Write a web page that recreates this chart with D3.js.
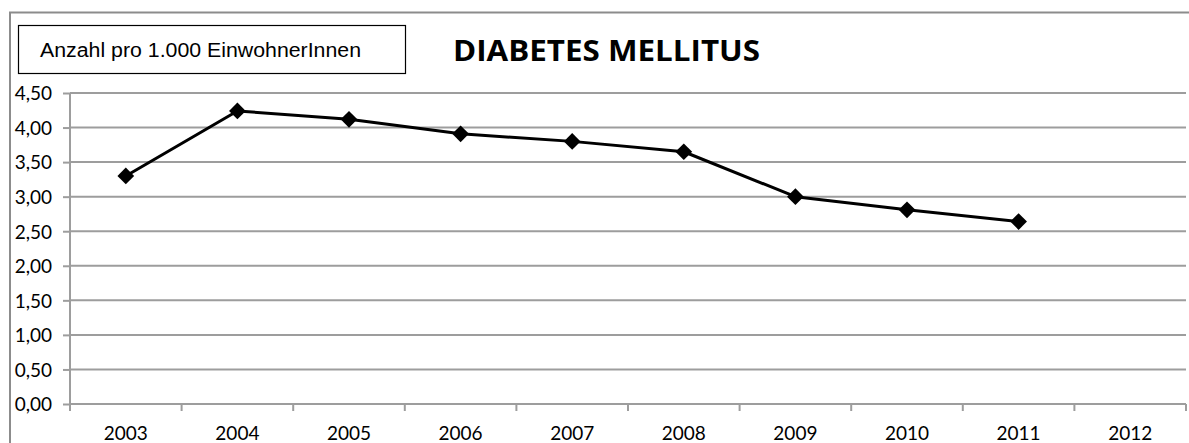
<!DOCTYPE html>
<html>
<head>
<meta charset="utf-8">
<script src="https://cdn.jsdelivr.net/npm/d3@7"></script>
<style>
  html, body { margin: 0; padding: 0; background: #fff; }
  svg { display: block; }
</style>
</head>
<body>
<svg id="chart" width="1189" height="443"></svg>
<script>
// Diabetes mellitus cases per 1,000 inhabitants
const years = ["2003", "2004", "2005", "2006", "2007", "2008", "2009", "2010", "2011", "2012"];
const values = [3.30, 4.24, 4.12, 3.91, 3.80, 3.65, 3.00, 2.81, 2.64, null];
const yTicks = [0, 0.5, 1, 1.5, 2, 2.5, 3, 3.5, 4, 4.5];
const titleText = "DIABETES MELLITUS";
const unitText = "Anzahl pro 1.000 EinwohnerInnen";

const svg = d3.select("#chart");
const W = 1189, H = 443;
const plot = { left: 70, right: 1186, top: 93, bottom: 404 };
const tickFont = "Lato, 'Open Sans', sans-serif";

const fmt = v => d3.format(".2f")(v).replace(".", ",");

// outer frame (top and left edges visible)
svg.append("path")
  .attr("d", `M10,${H} L10,12.5 L${W},12.5`)
  .attr("fill", "none").attr("stroke", "#8c8c8c").attr("stroke-width", 2);

const x = d3.scaleBand().domain(years).range([plot.left, plot.right]).padding(0);
const y = d3.scaleLinear().domain([0, 4.5]).range([plot.bottom, plot.top]);

// horizontal gridlines
svg.append("g").selectAll("line").data(yTicks.slice(1)).join("line")
  .attr("x1", plot.left).attr("x2", plot.right)
  .attr("y1", d => y(d)).attr("y2", d => y(d))
  .attr("stroke", "#9d9d9d").attr("stroke-width", 2);

// y axis
const yAxis = svg.append("g").attr("transform", `translate(${plot.left},0)`)
  .call(d3.axisLeft(y).tickValues(yTicks).tickFormat(fmt).tickSize(7).tickPadding(11));
yAxis.select(".domain").attr("stroke", "#9d9d9d").attr("stroke-width", 2)
  .attr("d", `M0,${plot.bottom}V${plot.top}`);
yAxis.selectAll(".tick line").attr("stroke", "#9d9d9d").attr("stroke-width", 2);
yAxis.selectAll(".tick text")
  .attr("fill", "#000").attr("dy", "0.36em")
  .style("font-family", tickFont).style("font-size", "19px");

// x axis: ticks at category boundaries
const xAxis = svg.append("g").attr("transform", `translate(0,${plot.bottom})`);
xAxis.append("line").attr("x1", plot.left).attr("x2", plot.right)
  .attr("stroke", "#9d9d9d").attr("stroke-width", 2);
const bounds = years.map(d => x(d)).concat([plot.right]);
xAxis.selectAll("line.tk").data(bounds).join("line").attr("class", "tk")
  .attr("x1", d => d).attr("x2", d => d).attr("y1", 0).attr("y2", 7)
  .attr("stroke", "#9d9d9d").attr("stroke-width", 2);
xAxis.selectAll("text").data(years).join("text")
  .attr("x", d => x(d) + x.bandwidth() / 2).attr("y", 36)
  .attr("text-anchor", "middle")
  .style("font-family", tickFont).style("font-size", "19px")
  .text(d => d);

// data line
const pts = years.map((d, i) => ({ year: d, v: values[i] })).filter(p => p.v != null);
const line = d3.line().x(p => x(p.year) + x.bandwidth() / 2).y(p => y(p.v));
svg.append("path").datum(pts).attr("d", line)
  .attr("fill", "none").attr("stroke", "#000").attr("stroke-width", 3).attr("stroke-linejoin", "round");

// diamond markers
const diamond = d3.symbol().type(d3.symbolSquare).size(140);
svg.append("g").selectAll("path").data(pts).join("path")
  .attr("d", diamond)
  .attr("transform", p => `translate(${x(p.year) + x.bandwidth() / 2},${y(p.v)}) rotate(45)`)
  .attr("fill", "#000");

// unit label box
svg.append("rect").attr("x", 18.5).attr("y", 25.5).attr("width", 387).attr("height", 48)
  .attr("fill", "#fff").attr("stroke", "#000").attr("stroke-width", 1.2);
svg.append("text").attr("x", 40).attr("y", 57)
  .attr("textLength", 321).attr("lengthAdjust", "spacingAndGlyphs")
  .style("font-family", "'Liberation Sans', Arial, sans-serif").style("font-size", "20px")
  .text(unitText);

// title
svg.append("text").attr("x", 453).attr("y", 61)
  .attr("textLength", 307).attr("lengthAdjust", "spacingAndGlyphs")
  .style("font-family", "'Open Sans', Lato, sans-serif").style("font-weight", "bold").style("font-size", "29px")
  .text(titleText);
</script>
</body>
</html>
